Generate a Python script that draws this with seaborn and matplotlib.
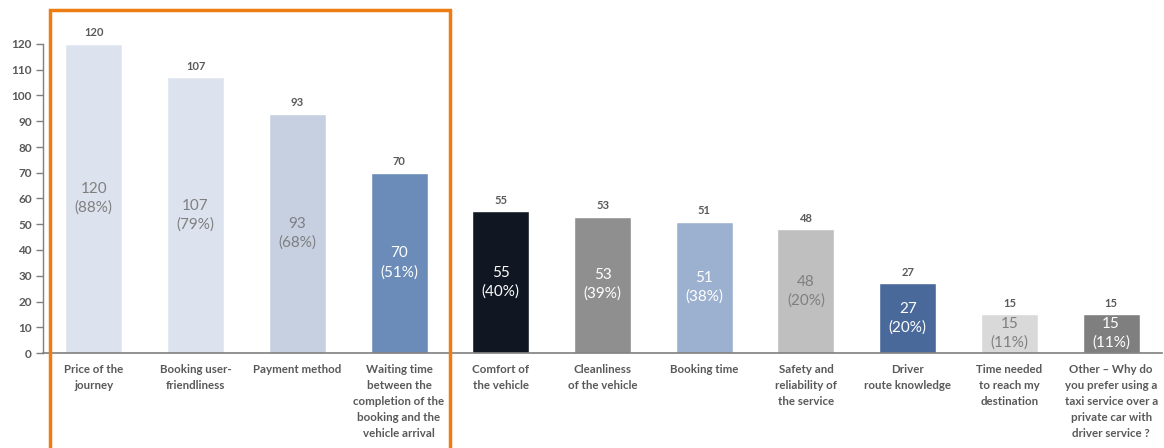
import matplotlib
matplotlib.use("Agg")
import matplotlib.pyplot as plt
import seaborn as sns
import pandas as pd
from matplotlib.patches import Rectangle

categories = [
    "Price of the\njourney",
    "Booking user-\nfriendliness",
    "Payment method",
    "Waiting time\nbetween the\ncompletion of the\nbooking and the\nvehicle arrival",
    "Comfort of\nthe vehicle",
    "Cleanliness\nof the vehicle",
    "Booking time",
    "Safety and\nreliability of\nthe service",
    "Driver\nroute knowledge",
    "Time needed\nto reach my\ndestination",
    "Other – Why do\nyou prefer using a\ntaxi service over a\nprivate car with\ndriver service ?",
]
counts = [120, 107, 93, 70, 55, 53, 51, 48, 27, 15, 15]
percents = [88, 79, 68, 51, 40, 39, 38, 20, 20, 11, 11]
yticks = list(range(0, 121, 10))

bar_colors = ["#dde3ee", "#dde3ee", "#c6d0e1", "#6b8cb9", "#111722", "#8f8f8f",
              "#9cb0cf", "#bfbfbf", "#4a699b", "#d9d9d9", "#7f7f7f"]
inner_colors = ["#7f7f7f", "#7f7f7f", "#7f7f7f", "white", "white", "white",
                "white", "#7f7f7f", "white", "#7f7f7f", "white"]

sns.set_style("white")
plt.rcParams["font.family"] = ["Lato", "DejaVu Sans"]

df = pd.DataFrame({"cat": categories, "count": counts})

fig = plt.figure(figsize=(11.64, 4.48), dpi=100)
ax = fig.add_axes([43 / 1164, (448 - 353) / 448, (1162 - 43) / 1164, 309 / 448])
sns.barplot(data=df, x="cat", y="count", hue="cat", palette=bar_colors,
            legend=False, width=0.56, ax=ax, saturation=1)

ax.set_xlim(-0.5, len(categories) - 0.5)
ax.set_ylim(0, 120)
ax.set_yticks(yticks)
ax.set_yticklabels([str(t) for t in yticks], fontsize=8.5, fontweight="bold", color="#595959")
ax.tick_params(axis="y", length=5, width=1, color="#7f7f7f", left=True, pad=3)
ax.tick_params(axis="x", length=0, pad=8)
for lab in ax.get_xticklabels():
    lab.set_fontsize(8.3)
    lab.set_fontweight("bold")
    lab.set_color("#595959")
    lab.set_verticalalignment("top")
    lab.set_linespacing(1.55)
ax.set_xlabel("")
ax.set_ylabel("")
for s in ["top", "right"]:
    ax.spines[s].set_visible(False)
ax.spines["left"].set_color("#7f7f7f")
ax.spines["bottom"].set_color("#7f7f7f")
ax.spines["left"].set_linewidth(1)
ax.spines["bottom"].set_linewidth(1.2)

for i, (c, p) in enumerate(zip(counts, percents)):
    ax.annotate(str(c), (i, c), xytext=(0, 4), textcoords="offset points",
                ha="center", va="bottom", fontsize=8, fontweight="bold", color="#595959")
    ax.text(i, c / 2, f"{c}\n({p}%)", ha="center", va="center", fontsize=11,
            color=inner_colors[i], linespacing=1.4)

fig.patches.append(Rectangle((50 / 1164, -0.05), 400 / 1164, (448 - 10) / 448 + 0.05,
                             transform=fig.transFigure, fill=False,
                             edgecolor="#ed7d12", linewidth=2.5, zorder=10))

fig.savefig("out.png", dpi=100)
